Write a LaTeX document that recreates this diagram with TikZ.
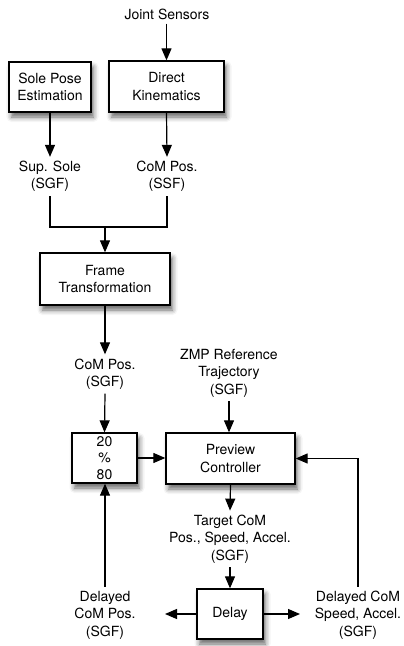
\documentclass[tikz,border=0pt]{standalone}
\usepackage{fontspec}
\setmainfont{TeX Gyre Heros}
\usetikzlibrary{arrows.meta,shadows.blur,calc}
\begin{document}
\begin{tikzpicture}[x=1pt,y=-1pt,
  every node/.style={font=\fontsize{14}{17.5}\selectfont},
  blk/.style={draw,line width=1.3pt,fill=white,align=center,inner sep=2pt,
    blur shadow={shadow xshift=2.5pt,shadow yshift=-5pt,shadow blur radius=5pt,shadow opacity=60}},
  lbl/.style={align=center,inner sep=4pt},
  arr/.style={line width=1.2pt,-{Triangle[length=12pt,width=10pt]}},
  ln/.style={line width=1.2pt}]
\useasboundingbox (0,0) rectangle (404,646);
\node[lbl] (js) at (167,14) {Joint Sensors};
\node[blk,minimum width=82pt,minimum height=50pt] (spe) at (50,87) {Sole Pose\\Estimation};
\node[blk,minimum width=115pt,minimum height=51pt] (dk) at (166.5,86.5) {Direct\\Kinematics};
\node[lbl] (sup) at (50,176.5) {Sup. Sole\\(SGF)};
\node[lbl] (cssf) at (167,176.5) {CoM Pos.\\(SSF)};
\node[blk,minimum width=130pt,minimum height=52pt] (ft) at (105,279) {Frame\\Transformation};
\node[lbl] (csgf) at (105,374) {CoM Pos.\\(SGF)};
\node[blk,minimum width=65pt,minimum height=50pt,font=\fontsize{14}{16.5}\selectfont] (mix) at (104.5,458) {20\\\%\\80};
\node[blk,minimum width=129pt,minimum height=51pt] (pc) at (230.5,458.5) {Preview\\Controller};
\node[lbl] (zmp) at (229,373) {ZMP Reference\\Trajectory\\(SGF)};
\node[lbl] (tgt) at (230,539) {Target CoM\\Pos., Speed, Accel.\\(SGF)};
\node[blk,minimum width=66pt,minimum height=50pt] (dl) at (230,614) {Delay};
\node[lbl] (dcom) at (105,615) {Delayed\\CoM Pos.\\(SGF)};
\node[lbl] (dspd) at (358,615) {Delayed CoM\\Speed, Accel.\\(SGF)};
\coordinate (j) at (105,227);
\coordinate (ltip) at (165,614);
\coordinate (rtip) at (300,614);
\draw[arr] (js.south -| dk.north) -- (dk.north);
\draw[arr] (spe.south) -- (sup.north);
\draw[arr] (dk.south) -- (cssf.north);
\draw[ln] (sup.south) -- (sup.south |- j) -- (cssf.south |- j) -- (cssf.south);
\draw[arr] (j) -- (ft.north);
\draw[arr] (ft.south) -- (csgf.north);
\draw[arr] (csgf.south) -- (mix.north);
\draw[arr] (mix.east) -- (mix.east -| pc.west);
\draw[arr] (zmp.south) -- (zmp.south |- pc.north);
\draw[arr] (pc.south) -- (tgt.north);
\draw[arr] (tgt.south) -- (dl.north);
\draw[arr] (dl.west) -- (dl.west -| ltip);
\draw[arr] (dl.east) -- (dl.east -| rtip);
\draw[arr] (dcom.north) -- (dcom.north |- mix.south);
\draw[arr] (dspd.north) |- (pc.east);
\end{tikzpicture}
\end{document}
